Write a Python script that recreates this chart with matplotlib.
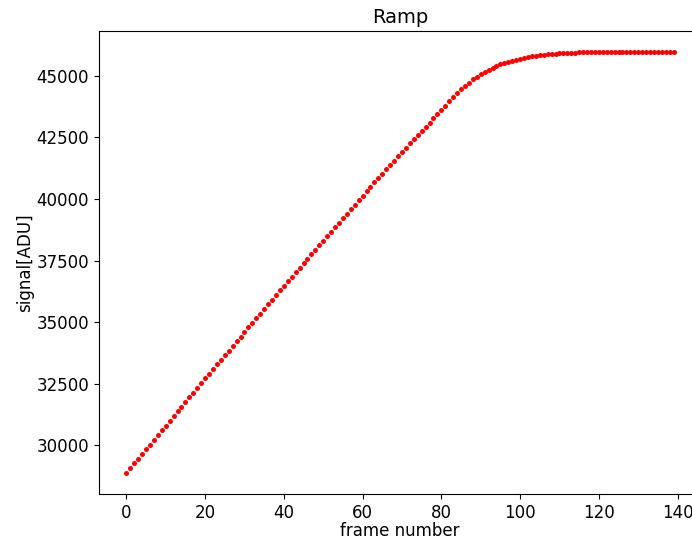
import numpy as np
import matplotlib
matplotlib.use('Agg')
import matplotlib.pyplot as plt

# frame numbers 0..139
frames = np.arange(140)

# signal (ADU)
signal_linear = [28880, 29072, 29263, 29455, 29647, 29838, 30030, 30222, 30414, 30605,
                 30797, 30989, 31180, 31372, 31564, 31756, 31947, 32139, 32331, 32522,
                 32714, 32906, 33094, 33281, 33469, 33656, 33844, 34032, 34219, 34407,
                 34594, 34782, 34970, 35157, 35345, 35532, 35720, 35908, 36095, 36283,
                 36470, 36658, 36841, 37024, 37207, 37390, 37573, 37756, 37939, 38122,
                 38305, 38488, 38671, 38854, 39037, 39220, 39403, 39586, 39769, 39952,
                 40135, 40317, 40494, 40670, 40846, 41022, 41199, 41375, 41552, 41728,
                 41905, 42081, 42251, 42421, 42591, 42761, 42931, 43100, 43270, 43440]
signal_knee = [43610, 43790, 43965, 44130, 44290, 44445, 44590, 44725, 44850, 44965,
               45070, 45165, 45250, 45330, 45400, 45465, 45520, 45570, 45615, 45655,
               45700, 45735, 45765, 45790, 45815, 45835, 45855, 45870, 45885, 45895,
               45905, 45912, 45918, 45922, 45926, 45955]
signal_flat = [45945, 45948, 45946, 45950, 45947, 45949, 45946, 45950, 45948, 45947,
               45949, 45946, 45950, 45948, 45947, 45949, 45946, 45948, 45950, 45947,
               45949, 45946, 45948, 45947]

signal = np.array(signal_linear + signal_knee + signal_flat)

fig = plt.figure(figsize=(6.92, 5.38), dpi=100)
ax = fig.add_axes([0.143, 0.082, 0.87, 0.86])
ax.plot(frames, signal, 'o', color='red', markersize=3.6, markeredgewidth=0)
ax.set_title('Ramp', fontsize=14)
ax.set_xlabel('frame number', fontsize=12, labelpad=0)
ax.set_ylabel('signal[ADU]', fontsize=12, labelpad=2)
ax.tick_params(axis='both', labelsize=12)

plt.savefig('out.png', dpi=100)
